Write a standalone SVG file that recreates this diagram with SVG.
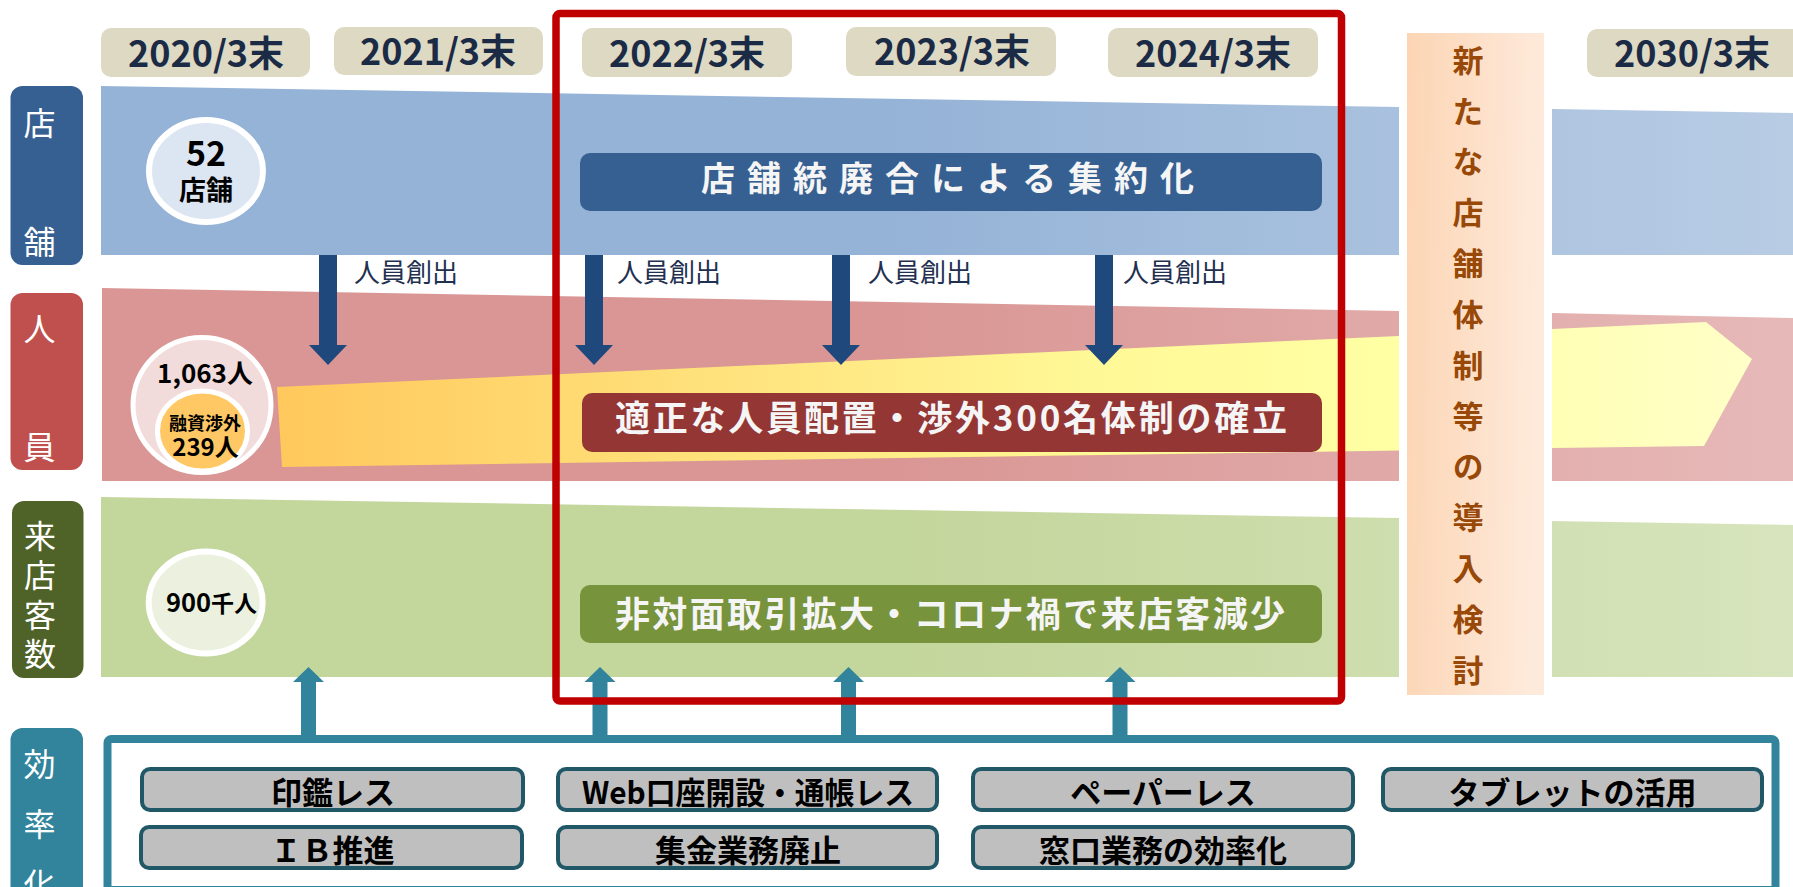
<svg xmlns="http://www.w3.org/2000/svg" width="1793" height="887" viewBox="0 0 1793 887">
<defs>
<linearGradient id="gBlue" gradientUnits="userSpaceOnUse" x1="100" y1="0" x2="1793" y2="0"><stop offset="0" stop-color="#95B3D7"/><stop offset="0.47" stop-color="#95B3D7"/><stop offset="1" stop-color="#B8CCE4"/></linearGradient>
<linearGradient id="gPink" gradientUnits="userSpaceOnUse" x1="100" y1="0" x2="1793" y2="0"><stop offset="0" stop-color="#D99694"/><stop offset="0.47" stop-color="#D99694"/><stop offset="1" stop-color="#E6B9B8"/></linearGradient>
<linearGradient id="gGreen" gradientUnits="userSpaceOnUse" x1="100" y1="0" x2="1793" y2="0"><stop offset="0" stop-color="#C3D69B"/><stop offset="0.47" stop-color="#C3D69B"/><stop offset="1" stop-color="#D7E4BD"/></linearGradient>
<linearGradient id="gYellow" gradientUnits="userSpaceOnUse" x1="277" y1="0" x2="1752" y2="0"><stop offset="0" stop-color="#FFC85C"/><stop offset="0.3" stop-color="#FFE27C"/><stop offset="0.55" stop-color="#FFF896"/><stop offset="0.75" stop-color="#FFFFA4"/><stop offset="1" stop-color="#FFFFC8"/></linearGradient>
<linearGradient id="gCol" x1="0" y1="0" x2="1" y2="0.1"><stop offset="0" stop-color="#FCD5B4"/><stop offset="1" stop-color="#FEEADB"/></linearGradient>
<style>
.yb{fill:#DDD9C3}
.yt{font-family:'Noto Sans CJK JP','Noto Sans',sans-serif;font-weight:700;font-size:36px;fill:#1B2B45;text-anchor:middle}
.lt{font-family:'Noto Sans CJK JP','Noto Sans',sans-serif;font-size:32px;fill:#FFFFFF;writing-mode:vertical-rl}
.bt{font-family:'Noto Sans CJK JP','Noto Sans',sans-serif;font-weight:700;fill:#F5F5F5}
.ct{font-family:'Noto Sans CJK JP','Noto Sans',sans-serif;font-weight:700;fill:#000000;text-anchor:middle}
.dn{fill:#1F497D}
.up{fill:#31849B}
.at{font-family:'Noto Sans CJK JP','Noto Sans',sans-serif;font-size:26px;fill:#1F3050}
.btn{fill:#BFBFBF;stroke:#215867;stroke-width:4}
.bx{font-family:'Noto Sans CJK JP','Noto Sans',sans-serif;font-weight:700;font-size:31px;fill:#000000;text-anchor:middle}
.vt{font-family:'Noto Sans CJK JP','Noto Sans',sans-serif;font-weight:700;font-size:31px;fill:#984807;writing-mode:vertical-rl}
</style>
</defs>
<rect width="1793" height="887" fill="#FFFFFF"/>

<g id="bands">
<polygon points="101,86 1399,107 1399,255 101,255" fill="url(#gBlue)"/>
<polygon points="1552,109 1793,113 1793,255 1552,255" fill="url(#gBlue)"/>
<polygon points="102,288 1399,311 1399,481 102,481" fill="url(#gPink)"/>
<polygon points="1552,313 1793,318 1793,481 1552,481" fill="url(#gPink)"/>
<polygon points="101,497 1399,518 1399,677 101,677" fill="url(#gGreen)"/>
<polygon points="1552,521 1793,525 1793,677 1552,677" fill="url(#gGreen)"/>
</g>

<g id="staff-arrow">
<polygon points="277,387 1399,336 1399,450.5 282,467" fill="url(#gYellow)"/>
<polygon points="1552,329 1706,322 1752,359 1704,446 1552,448" fill="url(#gYellow)"/>
</g>

<g id="years">
<g id="y2020"><rect class="yb" x="101" y="28" width="209" height="49" rx="10"/><text class="yt" x="206" y="67">2020/3末</text></g>
<g id="y2021"><rect class="yb" x="334" y="27" width="209" height="48" rx="10"/><text class="yt" x="438" y="65">2021/3末</text></g>
<g id="y2022"><rect class="yb" x="582" y="28" width="210" height="49" rx="10"/><text class="yt" x="687" y="67">2022/3末</text></g>
<g id="y2023"><rect class="yb" x="846" y="27" width="210" height="49" rx="10"/><text class="yt" x="952" y="65">2023/3末</text></g>
<g id="y2024"><rect class="yb" x="1108" y="28" width="210" height="49" rx="10"/><text class="yt" x="1213" y="67">2024/3末</text></g>
<g id="y2030"><rect class="yb" x="1587" y="29" width="220" height="48" rx="10"/><text class="yt" x="1692" y="67">2030/3末</text></g>
</g>

<g id="label-store"><rect x="10.5" y="86" width="72.5" height="179" rx="12" fill="#376092"/><text class="lt" x="39.5" y="106.5" letter-spacing="87">店舗</text></g>
<g id="label-staff"><rect x="10.5" y="293" width="72.5" height="177" rx="12" fill="#C0504D"/><text class="lt" x="39.5" y="312.5" letter-spacing="86">人員</text></g>
<g id="label-visitors"><rect x="12" y="501" width="71.5" height="177" rx="12" fill="#4F6228"/><text class="lt" x="40" y="520" letter-spacing="7.2">来店客数</text></g>
<g id="label-efficiency"><rect x="10.5" y="728" width="72.5" height="190" rx="12" fill="#31849B"/><text class="lt" x="39.5" y="748" letter-spacing="28">効率化</text></g>

<g id="circle-stores"><ellipse cx="206" cy="171" rx="57" ry="51" fill="#DCE6F2" stroke="#FFFFFF" stroke-width="6"/><text class="ct" x="206"><tspan x="206" y="165.5" font-size="34">52</tspan><tspan x="206" y="200" font-size="27">店舗</tspan></text></g>
<g id="circle-staff"><ellipse cx="202" cy="405" rx="69" ry="67.5" fill="#F2DCDB" stroke="#FFFFFF" stroke-width="5"/><text class="ct" x="205" y="383" font-size="26">1,063人</text><ellipse cx="202.5" cy="431" rx="45" ry="40" fill="#FFC864" stroke="#FFFFFF" stroke-width="5"/><text class="ct"><tspan x="205" y="429.5" font-size="18">融資渉外</tspan><tspan x="205.5" y="456" font-size="24">239人</tspan></text></g>
<g id="circle-visitors"><ellipse cx="205.7" cy="602.5" rx="57" ry="51" fill="#EBF1DE" stroke="#FFFFFF" stroke-width="6"/><text class="ct" x="211.5" y="612"><tspan font-size="25.5">900</tspan><tspan font-size="23">千人</tspan></text></g>

<g id="banner-store"><rect x="580" y="153" width="742" height="58" rx="10" fill="#376092"/><text class="bt" x="701" y="190.5" font-size="34" textLength="493" lengthAdjust="spacing">店舗統廃合による集約化</text></g>
<g id="banner-staff"><rect x="582" y="393" width="740" height="59" rx="10" fill="#943634"/><text class="bt" x="615" y="431" font-size="35" textLength="672" lengthAdjust="spacing">適正な人員配置・渉外300名体制の確立</text></g>
<g id="banner-visitors"><rect x="580" y="585" width="742" height="58" rx="10" fill="#77933C"/><text class="bt" x="615" y="627" font-size="35" textLength="670" lengthAdjust="spacing">非対面取引拡大・コロナ禍で来店客減少</text></g>

<g id="connectors">
<polygon class="dn" points="319,255 337,255 337,345 347,345 328,365 309,345 319,345"/>
<polygon class="dn" points="585,255 603,255 603,345 613,345 594,365 575,345 585,345"/>
<polygon class="dn" points="832,255 850,255 850,345 860,345 841,365 822,345 832,345"/>
<polygon class="dn" points="1095,255 1113,255 1113,345 1123,345 1104,365 1085,345 1095,345"/>
<text class="at" x="354" y="282">人員創出</text>
<text class="at" x="617" y="282">人員創出</text>
<text class="at" x="868" y="282">人員創出</text>
<text class="at" x="1123" y="282">人員創出</text>
<polygon class="up" points="301,740 316,740 316,682 324,682 308.5,667 293,682 301,682"/>
<polygon class="up" points="592.5,740 607.5,740 607.5,682 615.5,682 600,667 584.5,682 592.5,682"/>
<polygon class="up" points="841,740 856,740 856,682 864,682 848.5,667 833,682 841,682"/>
<polygon class="up" points="1112.5,740 1127.5,740 1127.5,682 1135.5,682 1120,667 1104.5,682 1112.5,682"/>
</g>

<g id="focus-frame"><rect x="556" y="13.5" width="785.5" height="687.5" rx="4" fill="none" stroke="#C00000" stroke-width="7.5"/></g>

<g id="new-system">
<rect x="1407" y="33" width="137" height="662" fill="url(#gCol)"/>
<text class="vt" x="1468" y="44.5" letter-spacing="19.83">新たな店舗体制等の導入検討</text>
</g>

<g id="efficiency-box">
<rect x="107.5" y="739" width="1668" height="151" rx="4" fill="#FFFFFF" stroke="#31849B" stroke-width="8"/>
</g>
<g id="btn-inkan"><rect class="btn" x="142" y="769" width="381" height="41" rx="8"/><text class="bx" x="333" y="804">印鑑レス</text></g>
<g id="btn-web"><rect class="btn" x="558" y="769" width="379" height="41" rx="8"/><text class="bx" x="748" y="804" textLength="332" lengthAdjust="spacingAndGlyphs">Web口座開設・通帳レス</text></g>
<g id="btn-paper"><rect class="btn" x="973" y="769" width="380" height="41" rx="8"/><text class="bx" x="1163" y="804">ペーパーレス</text></g>
<g id="btn-tablet"><rect class="btn" x="1383" y="769" width="379" height="41" rx="8"/><text class="bx" x="1572.5" y="804">タブレットの活用</text></g>
<g id="btn-ib"><rect class="btn" x="141" y="827" width="381" height="41" rx="8"/><text class="bx" x="332.5" y="862">ＩＢ推進</text></g>
<g id="btn-collect"><rect class="btn" x="558" y="827" width="379" height="41" rx="8"/><text class="bx" x="748" y="862">集金業務廃止</text></g>
<g id="btn-counter"><rect class="btn" x="973" y="827" width="380" height="41" rx="8"/><text class="bx" x="1163" y="862">窓口業務の効率化</text></g>
</svg>
